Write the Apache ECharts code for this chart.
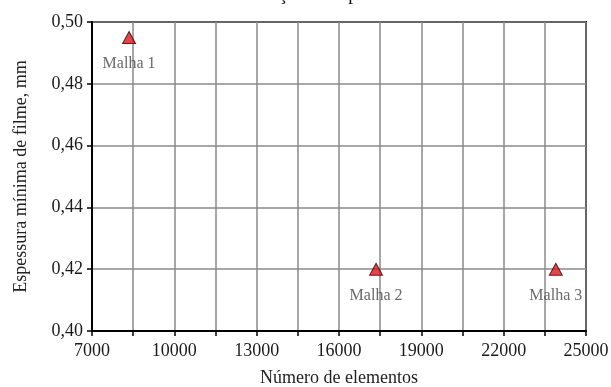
<!DOCTYPE html>
<html><head><meta charset="utf-8">
<script src="https://cdn.jsdelivr.net/npm/echarts@6/dist/echarts.min.js"></script>
<style>html,body{margin:0;padding:0;background:#fff}#c{width:611px;height:387px}</style>
</head><body><div id="c"></div>
<script>
const titleText = "Análise da determinação da espessura de filme";
const labels = ["Malha 1", "Malha 2", "Malha 3"];
const elements = [8350, 17350, 23900];
const thickness = [0.495, 0.420, 0.420];
const xTicks = [7000, 10000, 13000, 16000, 19000, 22000, 25000];

const font = "'Liberation Serif', 'DejaVu Serif', serif";
const chart = echarts.init(document.getElementById('c'));
chart.setOption({
  animation: false,
  backgroundColor: '#fff',
  title: {
    text: titleText, left: 290, top: -19, textAlign: 'center',
    textStyle: { fontFamily: font, fontSize: 19, fontWeight: 'normal', color: '#111' }
  },
  grid: { left: 92, right: 25, top: 22, bottom: 56, outerBoundsMode: 'none', containLabel: false,
          show: true, borderColor: '#000', borderWidth: 2 },
  xAxis: {
    type: 'value', min: 7000, max: 25000, interval: 1500,
    name: 'Número de elementos', nameLocation: 'middle', nameGap: 38,
    nameTextStyle: { fontFamily: font, fontSize: 18, color: '#222' },
    axisLine: { lineStyle: { color: '#000', width: 2 } },
    axisTick: { show: true, inside: false, length: 5, lineStyle: { color: '#000', width: 1.5 } },
    axisLabel: {
      fontFamily: font, fontSize: 18, color: '#1a1a1a', margin: 11,
      formatter: v => xTicks.includes(v) ? String(v) : ''
    },
    splitLine: { show: true, lineStyle: { color: '#8a8a8a', width: 1.5 } }
  },
  yAxis: {
    type: 'value', min: 0.40, max: 0.50, interval: 0.02,
    name: 'Espessura mínima de filme, mm', nameLocation: 'middle', nameGap: 62,
    nameTextStyle: { fontFamily: font, fontSize: 18, color: '#222' },
    axisLine: { show: true, lineStyle: { color: '#000', width: 2 } },
    axisTick: { show: true, length: 5, lineStyle: { color: '#000', width: 1.5 } },
    axisLabel: {
      fontFamily: font, fontSize: 18, color: '#1a1a1a', margin: 9,
      formatter: v => v.toFixed(2).replace('.', ',')
    },
    splitLine: { show: true, lineStyle: { color: '#8a8a8a', width: 1.5 } }
  },
  series: [{
    type: 'scatter',
    symbol: 'triangle', symbolSize: [13, 12],
    itemStyle: { color: '#e3141c', borderColor: '#3a0000', borderWidth: 1 },
    data: elements.map((x, i) => ({ value: [x, thickness[i]], name: labels[i] })),
    label: {
      show: true, position: 'bottom', distance: 12,
      formatter: p => p.name,
      fontFamily: font, fontSize: 16, color: '#444'
    }
  }]
});
</script></body></html>
